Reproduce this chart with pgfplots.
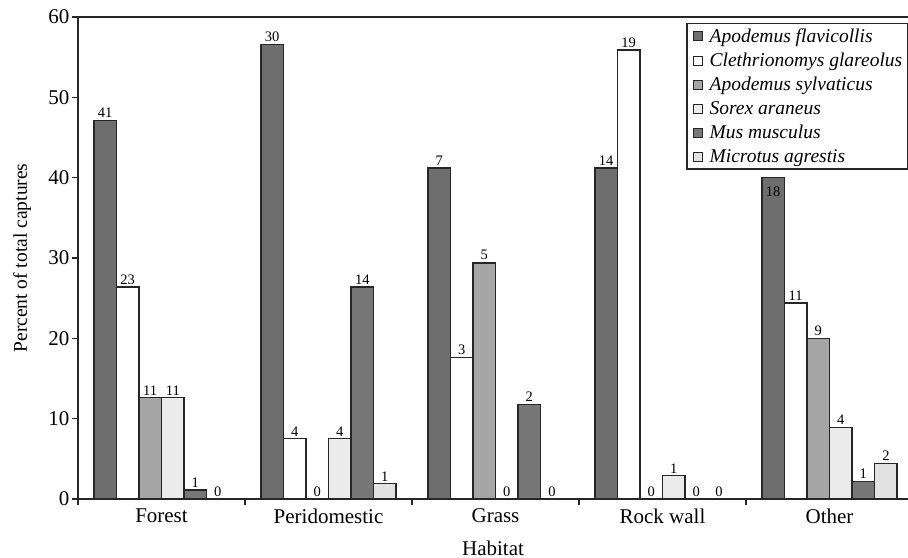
\documentclass[border=0pt]{standalone}
\usepackage{pgfplots}
\pgfplotsset{compat=1.18}
\usepackage{fontspec}
\setmainfont{Liberation Serif}

\definecolor{cA}{HTML}{6E6E6E}
\definecolor{cB}{HTML}{FFFFFF}
\definecolor{cC}{HTML}{A6A6A6}
\definecolor{cD}{HTML}{EBEBEB}
\definecolor{cE}{HTML}{777777}
\definecolor{cF}{HTML}{E2E2E2}
\definecolor{edge}{HTML}{262626}

\begin{document}
\begin{tikzpicture}
\begin{axis}[name=ax,
  width=830pt, height=482pt, scale only axis,
  xmin=-0.5, xmax=4.47, ymin=0, ymax=60,
  axis x line=box, axis y line=left,
  axis line style={-, draw=edge, line width=1.5pt},
  ytick={0,10,...,60},
  xtick={0,1,2,3,4},
  xticklabels={Forest,Peridomestic,Grass,Rock wall,Other},
  minor xtick={-0.5,0.5,1.5,2.5,3.5},
  xtick pos=bottom, ytick pos=left,
  tick align=outside,
  major x tick style={draw=none},
  tick style={draw=edge, line width=1.2pt},
  major tick length=6pt, minor tick length=6pt,
  /pgf/number format/assume math mode=true,
  ticklabel style={font=\fontsize{21}{24}\selectfont},
  yticklabel style={xshift=1pt},
  every axis x label/.style={at={(axis description cs:0.5,-0.1017)}, anchor=center, font=\fontsize{21}{24}\selectfont},
  every axis y label/.style={at={(axis description cs:-0.0675,0.5)}, rotate=90, anchor=center, font=\fontsize{19.5}{22}\selectfont},
  xlabel={Habitat},
  ylabel={Percent of total captures},
  ybar=0pt, bar width=0.135,
  nodes near coords,
  nodes near coords align={vertical},
  point meta=explicit symbolic,
  visualization depends on={\thisrow{dy} \as \dy},
  every node near coord/.append style={font=\fontsize{14.5}{16}\selectfont, inner sep=2pt, yshift=\dy pt, text=black},
  legend image code/.code={\path (-3pt,0pt); \draw[#1, line width=1pt] (0pt,-4.5pt) rectangle (9pt,4.5pt); \path (13pt,0pt);},
  legend cell align=left,
  legend style={at={(1,1)}, anchor=north east, yshift=-6pt, draw=edge, line width=1.5pt,
    font=\fontsize{19.5}{22}\selectfont\itshape, row sep=5.2pt, inner sep=3pt},
]
\addplot[fill=cA, draw=edge, line width=1.4pt] table[x=x, y=y, meta=lab] {
x y lab dy
0 47.1 41 0
1 56.6 30 0
2 41.2 7 0
3 41.2 14 0
4 40.0 18 -22
};
\addplot[fill=cB, draw=edge, line width=1.4pt] table[x=x, y=y, meta=lab] {
x y lab dy
0 26.4 23 0
1 7.5 4 0
2 17.6 3 0
3 55.9 19 0
4 24.4 11 0
};
\addplot[fill=cC, draw=edge, line width=1.4pt] table[x=x, y=y, meta=lab] {
x y lab dy
0 12.6 11 0
1 0 0 0
2 29.4 5 0
3 0 0 0
4 20.0 9 0
};
\addplot[fill=cD, draw=edge, line width=1.4pt] table[x=x, y=y, meta=lab] {
x y lab dy
0 12.6 11 0
1 7.5 4 0
2 0 0 0
3 2.9 1 0
4 8.9 4 0
};
\addplot[fill=cE, draw=edge, line width=1.4pt] table[x=x, y=y, meta=lab] {
x y lab dy
0 1.1 1 0
1 26.4 14 0
2 11.8 2 0
3 0 0 0
4 2.2 1 0
};
\addplot[fill=cF, draw=edge, line width=1.4pt] table[x=x, y=y, meta=lab] {
x y lab dy
0 0 0 0
1 1.9 1 0
2 0 0 0
3 0 0 0
4 4.4 2 0
};
\legend{Apodemus flavicollis, Clethrionomys glareolus, Apodemus sylvaticus, Sorex araneus, Mus musculus, Microtus agrestis}
\end{axis}
\pgfresetboundingbox
\useasboundingbox ([xshift=-78pt,yshift=-59pt]ax.south west) rectangle ([yshift=17pt]ax.north east);
\end{tikzpicture}
\end{document}
